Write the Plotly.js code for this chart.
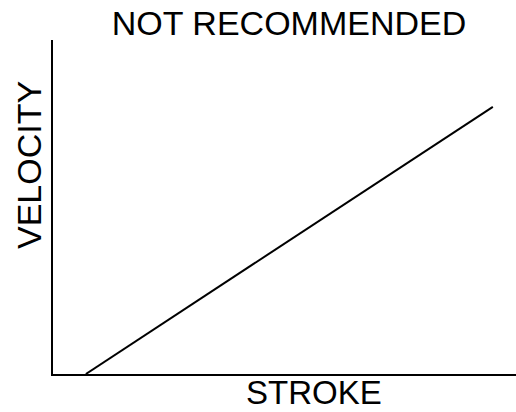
<!DOCTYPE html>
<html>
<head>
<meta charset="utf-8">
<script src="https://cdn.plot.ly/plotly-3.0.1.min.js"></script>
<style>html,body{margin:0;padding:0;background:#fff;}#chart{width:516px;height:412px;}</style>
</head>
<body>
<div id="chart"></div>
<script>
// Data (arbitrary units)
const strokeValues = [0.71, 9.5];
const velocityValues = [0, 8.0];
const chartTitle = "NOT RECOMMENDED";
const xLabel = "STROKE";
const yLabel = "VELOCITY";

const FONT = "Liberation Sans, Arial, Helvetica, sans-serif";

const trace = {
  x: strokeValues,
  y: velocityValues,
  type: "scatter",
  mode: "lines",
  line: {color: "#000", width: 2},
  hoverinfo: "skip",
  showlegend: false
};

const layout = {
  width: 516,
  height: 412,
  margin: {l: 53, r: 0, t: 40, b: 38, pad: 0},
  paper_bgcolor: "#fff",
  plot_bgcolor: "#fff",
  font: {family: FONT, color: "#000"},
  title: {
    text: chartTitle,
    font: {family: FONT, size: 34, color: "#000"},
    x: 289 / 516, xanchor: "center",
    y: 1 - 23 / 412, yanchor: "middle"
  },
  xaxis: {
    range: [0, 10],
    showline: true, linecolor: "#000", linewidth: 2,
    showgrid: false, zeroline: false, showticklabels: false, ticks: "",
    fixedrange: true
  },
  yaxis: {
    range: [0, 10],
    showline: true, linecolor: "#000", linewidth: 2,
    showgrid: false, zeroline: false, showticklabels: false, ticks: "",
    fixedrange: true
  },
  annotations: [
    {
      text: xLabel, xref: "paper", yref: "paper",
      x: (313.5 - 53) / 463, y: -(392.5 - 374) / 334,
      xanchor: "center", yanchor: "middle", showarrow: false,
      font: {family: FONT, size: 33, color: "#000"}
    },
    {
      text: yLabel, xref: "paper", yref: "paper",
      x: -(53 - 29) / 463, y: (374 - 165) / 334,
      xanchor: "center", yanchor: "middle", showarrow: false, textangle: -90,
      font: {family: FONT, size: 34, color: "#000"}
    }
  ]
};

Plotly.newPlot("chart", [trace], layout, {displayModeBar: false, staticPlot: true});
</script>
</body>
</html>
